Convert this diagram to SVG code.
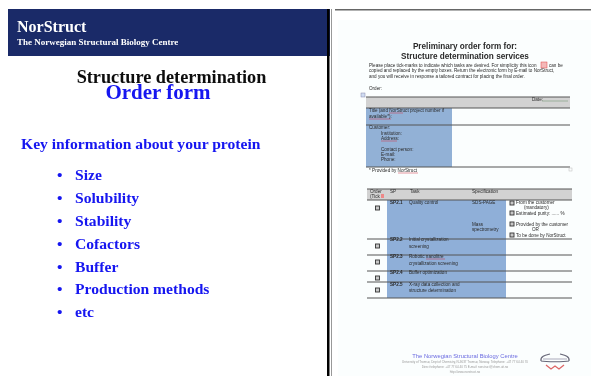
<svg xmlns="http://www.w3.org/2000/svg" width="591" height="376" viewBox="0 0 591 376">
<style>
.s{font-family:"Liberation Serif","Times New Roman",serif;font-weight:bold}
.b{fill:#1414f0;font-size:15.6px}
.a{font-family:"Liberation Sans",Arial,sans-serif;fill:#2a2a2a;font-size:4.6px}
.h{font-family:"Liberation Sans",Arial,sans-serif;font-weight:bold;fill:#2a2a2a;font-size:8.2px;text-anchor:middle}
.f{font-family:"Liberation Sans",Arial,sans-serif;text-anchor:middle;font-size:3px;fill:#999}
.l{stroke:#555;stroke-width:1;fill:none}
.c{fill:#c8c8c8;stroke:#333;stroke-width:.9}
.r{stroke:#d03040;stroke-width:.5;fill:none}
</style>
<defs>
<filter id="blur" x="-5%" y="-5%" width="110%" height="110%"><feGaussianBlur stdDeviation="0.5"/></filter>
<filter id="soft" x="-5%" y="-5%" width="110%" height="110%"><feGaussianBlur stdDeviation="0.2"/></filter>
</defs>
<rect width="591" height="376" fill="#fff"/>
<rect x="8" y="9" width="322" height="47" fill="#1a2a68"/>
<g filter="url(#soft)">
<g id="header">
<text class="s" x="17" y="32" font-size="16" fill="#fff">NorStruct</text>
<text class="s" x="17" y="45" font-size="9" fill="#fff">The Norwegian Structural Biology Centre</text>
</g>
<g id="titles">
<text class="s" x="171.500" y="83" font-size="18.250" fill="#111" text-anchor="middle">Structure determination</text>
<text class="s" x="158" y="99" font-size="21" fill="#1414f0" text-anchor="middle">Order form</text>
</g>
<g id="list">
<text class="s b" x="21" y="149">Key information about your protein</text>
<g class="s b">
<text x="57" y="180">•</text><text x="75" y="180">Size</text>
<text x="57" y="203">•</text><text x="75" y="203">Solubility</text>
<text x="57" y="226">•</text><text x="75" y="226">Stability</text>
<text x="57" y="249">•</text><text x="75" y="249">Cofactors</text>
<text x="57" y="272">•</text><text x="75" y="272">Buffer</text>
<text x="57" y="294">•</text><text x="75" y="294">Production methods</text>
<text x="57" y="317">•</text><text x="75" y="317">etc</text>
</g>
</g>
</g>
<rect x="327" y="9" width="2.500" height="367" fill="#000"/>
<rect x="331" y="9" width="1" height="367" fill="#999"/>
<g id="page" filter="url(#blur)">
<rect x="338" y="20" width="253" height="356" fill="#fbfefe"/>
<rect x="335" y="9" width="256" height="1.500" fill="#666"/>
<text class="h" x="465" y="49">Preliminary order form for:</text>
<text class="h" x="465" y="59">Structure determination services</text>
<text class="a" x="369" y="67">Please place tick-marks to indicate which tasks are desired. For simplicity this icon</text>
<rect x="541" y="62" width="6" height="6" fill="#f4b8b8" stroke="#d44" stroke-width=".5"/>
<text class="a" x="549" y="67">can be</text>
<text class="a" x="369" y="72">copied and replaced by the empty boxes. Return the electronic form by E-mail to NorStruct,</text>
<text class="a" x="369" y="78">and you will receive in response a tailored contract for placing the final order.</text>
<text class="a" x="369" y="90">Order:</text>
<rect x="361" y="93" width="4" height="4" fill="#cfdcf2" stroke="#88a" stroke-width=".5"/>

<rect x="366" y="97" width="204" height="11" fill="#d2d2d2"/>
<rect x="366" y="108" width="86" height="59" fill="#92b1d6"/>
<path class="l" d="M366 97H570M366 108H570M366 125H570M366 167H570"/>
<text class="a" x="532" y="101">Date:</text>
<path d="M542 101H568" stroke="#7a9a7a" stroke-width=".6"/>
<text class="a" x="369" y="112">Title (and NorStruct project number if</text>
<text class="a" x="369" y="118">available*):</text>
<path class="r" d="M389 113H403M369 119H391"/>
<text class="a" x="369" y="129">Customer:</text>
<text class="a" x="381" y="135">Institution:</text>
<text class="a" x="381" y="140">Address:</text>
<path class="r" d="M381 141H397"/>
<text class="a" x="381" y="151">Contact person:</text>
<text class="a" x="381" y="156">E-mail:</text>
<text class="a" x="381" y="161">Phone:</text>
<text class="a" x="369" y="172">* Provided by NorStruct</text>
<path class="r" d="M398 173H418"/>
<rect x="569" y="168" width="3" height="3" fill="none" stroke="#bbb" stroke-width=".5"/>

<rect x="367" y="189" width="205" height="11" fill="#d2d2d2"/>
<rect x="387" y="200" width="119" height="98" fill="#8fafd8"/>
<path class="l" d="M367 189H572M367 200H572M367 239H572M367 255H572M367 271H572M367 282H572M367 298H572"/>
<text class="a" x="370" y="193">Order</text>
<text class="a" x="370" y="198">(Tick</text>
<rect x="381" y="194" width="3" height="4" fill="#e88"/>
<text class="a" x="390" y="193">SP</text>
<text class="a" x="410" y="193">Task</text>
<text class="a" x="472" y="193">Specification</text>
<g font-weight="bold">
<text class="a" x="390" y="204">SP2.1</text>
<text class="a" x="390" y="241">SP2.2</text>
<text class="a" x="390" y="258">SP2.3</text>
<text class="a" x="390" y="274">SP2.4</text>
<text class="a" x="390" y="286">SP2.5</text>
</g>
<text class="a" x="409" y="204">Quality control</text>
<text class="a" x="472" y="204">SDS-PAGE</text>
<text class="a" x="472" y="226">Mass</text>
<text class="a" x="472" y="231">spectrometry</text>
<text class="a" x="409" y="241">Initial crystallization</text>
<text class="a" x="409" y="248">screening</text>
<text class="a" x="409" y="258">Robotic nanolitre</text>
<text class="a" x="409" y="265">crystallization screening</text>
<path class="r" d="M426 259H445"/>
<text class="a" x="409" y="274">Buffer optimization</text>
<text class="a" x="409" y="286">X-ray data collection and</text>
<text class="a" x="409" y="292">structure determination</text>
<text class="a" x="516" y="204">From the customer</text>
<text class="a" x="524" y="209">(mandatory)</text>
<text class="a" x="516" y="215">Estimated purity: ...... %</text>
<text class="a" x="516" y="226">Provided by the customer</text>
<text class="a" x="532" y="231">OR</text>
<text class="a" x="516" y="237">To be done by NorStruct</text>
<g class="c">
<rect x="375.500" y="206" width="4" height="4"/>
<rect x="375.500" y="244" width="4" height="4"/>
<rect x="375.500" y="260" width="4" height="4"/>
<rect x="375.500" y="276" width="4" height="4"/>
<rect x="375.500" y="288" width="4" height="4"/>
<rect x="510" y="201" width="4" height="4"/>
<rect x="510" y="211" width="4" height="4"/>
<rect x="510" y="222" width="4" height="4"/>
<rect x="510" y="233" width="4" height="4"/>
</g>
<g id="footer">
<text x="465" y="358" font-family="Liberation Sans,Arial,sans-serif" font-size="5.800" fill="#6a6ae0" text-anchor="middle">The Norwegian Structural Biology Centre</text>
<text class="f" x="465" y="363">University of Tromsø, Dept of Chemistry, N-9037 Tromsø, Norway. Telephone: +47 77 64 40 70</text>
<text class="f" x="465" y="368">Direct telephone: +47 77 64 40 75  E-mail: norstruct@chem.uit.no</text>
<text class="f" x="465" y="373" fill="#88c">http://www.norstruct.no</text>
<path d="M541 361C540 356 546 355 550 354M569 361C570 356 564 355 560 354M541 361C546 362 564 362 569 361" fill="none" stroke="#667" stroke-width="1.200"/>
<path d="M543 359H567" stroke="#aab" stroke-width="1"/>
<path d="M546 365L551 369L555 366L559 369L564 365" fill="none" stroke="#d66" stroke-width="1.300"/>
</g>
</g>
</svg>
